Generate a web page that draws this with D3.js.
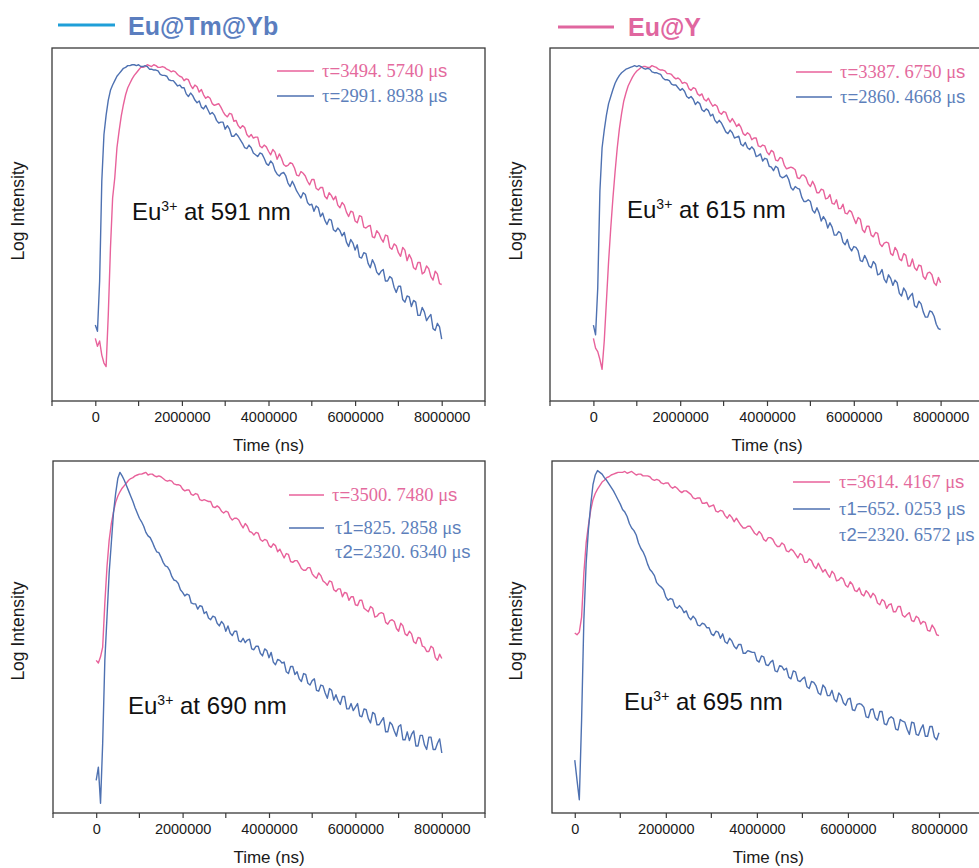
<!DOCTYPE html>
<html>
<head>
<meta charset="utf-8">
<script src="https://cdn.jsdelivr.net/npm/d3@7"></script>
<style>
  body { margin: 0; background: #fff; overflow: hidden; }
  svg { display: block; }
</style>
</head>
<body>
<svg id="fig" width="979" height="868"></svg>
<script>
// Sampling times (ns) shared by every decay trace
const timeNs = [
  0,50000,100000,150000,200000,250000,300000,350000,400000,450000,500000,550000,600000,650000,700000,750000,800000,850000,900000,950000,1000000,
  1050000,1100000,1150000,1200000,1250000,1300000,1350000,1400000,1450000,1500000,1550000,1600000,1650000,1700000,1750000,1800000,1850000,1900000,1950000,2000000,
  2050000,2100000,2150000,2200000,2250000,2300000,2350000,2400000,2450000,2500000,2550000,2600000,2650000,2700000,2750000,2800000,2850000,2900000,2950000,3000000,
  3050000,3100000,3150000,3200000,3250000,3300000,3350000,3400000,3450000,3500000,3550000,3600000,3650000,3700000,3750000,3800000,3850000,3900000,3950000,4000000,
  4050000,4100000,4150000,4200000,4250000,4300000,4350000,4400000,4450000,4500000,4550000,4600000,4650000,4700000,4750000,4800000,4850000,4900000,4950000,5000000,
  5050000,5100000,5150000,5200000,5250000,5300000,5350000,5400000,5450000,5500000,5550000,5600000,5650000,5700000,5750000,5800000,5850000,5900000,5950000,6000000,
  6050000,6100000,6150000,6200000,6250000,6300000,6350000,6400000,6450000,6500000,6550000,6600000,6650000,6700000,6750000,6800000,6850000,6900000,6950000,7000000,
  7050000,7100000,7150000,7200000,7250000,7300000,7350000,7400000,7450000,7500000,7550000,7600000,7650000,7700000,7750000,7800000,7850000,7900000,7950000,8000000
];

// Log intensity traces, Eu@Y samples (pink)
const euY591 = [
  0.71,0.62,0.68,0.52,0.43,0.39,0.98,1.73,2.30,2.53,2.87,3.06,3.23,3.36,3.47,3.55,3.60,3.65,3.69,3.72,3.75,
  3.78,3.78,3.79,3.81,3.80,3.79,3.81,3.80,3.78,3.78,3.79,3.78,3.76,3.75,3.73,3.74,3.73,3.70,3.68,3.67,
  3.63,3.65,3.64,3.58,3.54,3.58,3.56,3.50,3.53,3.47,3.43,3.45,3.43,3.37,3.35,3.36,3.37,3.33,3.28,3.24,
  3.22,3.26,3.25,3.17,3.18,3.12,3.09,3.12,3.10,3.02,2.99,3.02,2.98,2.99,2.99,2.89,2.87,2.90,2.88,2.83,
  2.79,2.85,2.82,2.74,2.80,2.75,2.68,2.66,2.67,2.70,2.69,2.64,2.56,2.55,2.60,2.58,2.55,2.49,2.45,2.51,
  2.51,2.41,2.39,2.42,2.42,2.32,2.29,2.36,2.33,2.28,2.32,2.22,2.19,2.25,2.22,2.14,2.09,2.15,2.14,2.04,
  2.02,2.10,2.09,1.97,1.96,1.98,1.99,1.86,1.85,1.93,1.90,1.84,1.80,1.88,1.87,1.74,1.72,1.78,1.76,1.68,
  1.64,1.74,1.71,1.59,1.66,1.61,1.51,1.49,1.57,1.57,1.44,1.46,1.53,1.50,1.41,1.37,1.47,1.44,1.33,1.32
];
const euY615 = [
  0.71,0.60,0.56,0.47,0.36,0.68,1.13,1.58,1.96,2.30,2.60,2.87,3.09,3.26,3.40,3.49,3.57,3.62,3.67,3.71,3.74,
  3.76,3.78,3.79,3.79,3.78,3.78,3.80,3.79,3.78,3.76,3.75,3.75,3.74,3.71,3.71,3.70,3.67,3.65,3.66,3.64,
  3.60,3.61,3.60,3.54,3.52,3.55,3.54,3.48,3.46,3.48,3.42,3.40,3.43,3.38,3.34,3.36,3.34,3.27,3.25,3.28,
  3.27,3.20,3.16,3.20,3.16,3.11,3.14,3.10,3.03,3.01,3.04,3.02,2.96,2.98,2.98,2.89,2.88,2.90,2.89,2.82,
  2.79,2.84,2.82,2.73,2.72,2.76,2.75,2.67,2.63,2.64,2.65,2.64,2.62,2.53,2.52,2.56,2.56,2.53,2.46,2.43,
  2.49,2.44,2.36,2.36,2.40,2.39,2.29,2.30,2.34,2.24,2.23,2.28,2.18,2.18,2.23,2.13,2.12,2.16,2.14,2.07,
  2.01,2.08,2.06,1.94,1.91,1.98,1.98,1.88,1.86,1.91,1.90,1.78,1.75,1.79,1.80,1.79,1.67,1.65,1.74,1.70,
  1.61,1.59,1.67,1.65,1.53,1.53,1.61,1.51,1.48,1.54,1.53,1.41,1.38,1.45,1.46,1.43,1.34,1.31,1.40,1.34
];
const euY690 = [
  1.73,1.70,1.77,1.88,2.38,2.79,3.09,3.28,3.41,3.52,3.59,3.64,3.68,3.71,3.74,3.77,3.79,3.80,3.82,3.83,3.84,
  3.84,3.85,3.86,3.83,3.84,3.84,3.82,3.81,3.82,3.81,3.79,3.77,3.76,3.77,3.76,3.73,3.72,3.72,3.71,3.67,
  3.65,3.66,3.66,3.61,3.60,3.62,3.61,3.55,3.54,3.55,3.54,3.53,3.53,3.47,3.46,3.48,3.46,3.42,3.40,3.42,
  3.41,3.35,3.32,3.34,3.34,3.32,3.27,3.23,3.28,3.25,3.19,3.18,3.15,3.18,3.17,3.10,3.08,3.10,3.09,3.03,
  3.01,3.05,3.03,2.96,2.99,2.94,2.89,2.94,2.93,2.85,2.84,2.86,2.86,2.82,2.77,2.75,2.75,2.78,2.78,2.71,
  2.68,2.66,2.72,2.69,2.63,2.61,2.58,2.63,2.62,2.53,2.51,2.54,2.54,2.45,2.50,2.49,2.41,2.45,2.45,2.36,
  2.35,2.41,2.41,2.32,2.30,2.28,2.34,2.32,2.22,2.23,2.26,2.27,2.26,2.16,2.14,2.18,2.19,2.17,2.09,2.06,
  2.15,2.12,2.03,2.01,2.06,2.03,1.94,1.92,1.99,1.98,1.89,1.88,1.83,1.83,1.89,1.87,1.76,1.73,1.80,1.75
];
const euY695 = [
  2.04,2.02,2.05,2.22,2.72,3.06,3.26,3.43,3.55,3.62,3.67,3.71,3.75,3.77,3.80,3.81,3.83,3.84,3.85,3.86,3.86,
  3.86,3.87,3.85,3.86,3.87,3.85,3.83,3.84,3.84,3.82,3.82,3.82,3.81,3.78,3.77,3.78,3.77,3.74,3.73,3.74,
  3.74,3.70,3.68,3.70,3.68,3.65,3.63,3.65,3.65,3.63,3.61,3.57,3.56,3.57,3.57,3.51,3.51,3.52,3.47,3.48,
  3.49,3.42,3.41,3.43,3.42,3.37,3.34,3.38,3.35,3.30,3.34,3.30,3.26,3.23,3.23,3.25,3.25,3.21,3.17,3.15,
  3.19,3.16,3.10,3.08,3.12,3.12,3.10,3.05,3.02,3.02,3.06,3.04,2.97,2.96,2.99,2.97,2.93,2.89,2.94,2.92,
  2.84,2.84,2.88,2.86,2.80,2.77,2.83,2.78,2.73,2.76,2.71,2.67,2.74,2.71,2.63,2.64,2.67,2.65,2.58,2.56,
  2.62,2.59,2.52,2.51,2.55,2.48,2.46,2.52,2.49,2.44,2.49,2.46,2.38,2.36,2.42,2.40,2.32,2.36,2.37,2.28,
  2.28,2.34,2.34,2.24,2.22,2.25,2.27,2.18,2.17,2.23,2.21,2.14,2.17,2.16,2.07,2.06,2.13,2.09,2.02,2.01
];

// Log intensity traces, Eu@Tm@Yb samples (blue)
const euTmYb591 = [
  0.86,0.79,1.36,2.49,3.02,3.24,3.41,3.52,3.58,3.63,3.68,3.71,3.74,3.77,3.78,3.80,3.80,3.81,3.81,3.80,3.81,
  3.79,3.79,3.80,3.79,3.76,3.76,3.75,3.75,3.74,3.70,3.69,3.69,3.68,3.64,3.63,3.63,3.60,3.57,3.58,3.55,
  3.55,3.48,3.45,3.49,3.46,3.41,3.38,3.40,3.33,3.31,3.35,3.30,3.25,3.27,3.24,3.18,3.15,3.16,3.16,3.08,
  3.12,3.08,3.00,3.00,3.03,3.00,2.96,2.92,2.87,2.86,2.90,2.87,2.81,2.79,2.77,2.81,2.80,2.75,2.69,2.67,
  2.72,2.69,2.61,2.57,2.55,2.58,2.59,2.55,2.47,2.43,2.49,2.44,2.38,2.34,2.30,2.36,2.34,2.25,2.22,2.23,
  2.15,2.21,2.19,2.09,2.13,2.05,2.00,2.06,2.05,1.94,1.92,1.96,1.93,1.87,1.91,1.80,1.75,1.83,1.79,1.71,
  1.77,1.63,1.62,1.68,1.67,1.56,1.51,1.60,1.55,1.46,1.43,1.47,1.49,1.36,1.36,1.41,1.39,1.29,1.23,1.30,
  1.30,1.15,1.12,1.19,1.18,1.07,1.14,1.12,0.97,0.97,1.06,1.01,0.91,0.95,0.98,0.82,0.80,0.88,0.84,0.70
];
const euTmYb615 = [
  0.86,0.75,1.28,2.38,2.87,3.07,3.24,3.37,3.45,3.53,3.60,3.65,3.69,3.72,3.74,3.76,3.77,3.78,3.79,3.80,3.79,
  3.80,3.79,3.77,3.76,3.77,3.76,3.73,3.72,3.72,3.71,3.70,3.66,3.64,3.64,3.63,3.59,3.58,3.58,3.55,3.52,
  3.54,3.51,3.45,3.43,3.45,3.42,3.36,3.39,3.37,3.30,3.28,3.31,3.29,3.23,3.25,3.18,3.15,3.18,3.15,3.10,
  3.05,3.03,3.07,3.04,2.98,2.99,3.00,2.91,2.89,2.93,2.87,2.85,2.88,2.85,2.77,2.78,2.80,2.72,2.75,2.74,
  2.66,2.65,2.61,2.66,2.64,2.55,2.53,2.54,2.56,2.51,2.42,2.39,2.43,2.41,2.40,2.31,2.26,2.26,2.28,2.26,
  2.16,2.13,2.19,2.13,2.04,2.09,2.05,1.96,2.02,1.97,1.88,1.88,1.92,1.90,1.80,1.77,1.83,1.74,1.70,1.75,
  1.74,1.70,1.59,1.58,1.65,1.60,1.53,1.51,1.58,1.55,1.43,1.44,1.49,1.38,1.34,1.43,1.39,1.31,1.37,1.34,
  1.22,1.19,1.28,1.24,1.15,1.19,1.22,1.08,1.06,1.13,1.10,1.01,0.95,0.95,1.02,1.01,0.96,0.87,0.82,0.81
];
const euTmYb690 = [
  0.37,0.52,0.11,0.79,1.73,2.22,2.72,3.06,3.40,3.62,3.79,3.86,3.82,3.77,3.71,3.65,3.59,3.53,3.46,3.40,3.34,
  3.30,3.25,3.18,3.14,3.12,3.07,3.01,2.96,2.95,2.90,2.84,2.80,2.79,2.75,2.68,2.64,2.63,2.60,2.53,2.50,
  2.46,2.48,2.47,2.38,2.37,2.37,2.31,2.35,2.34,2.26,2.28,2.21,2.19,2.23,2.22,2.15,2.12,2.17,2.14,2.06,
  2.12,2.04,2.01,2.06,2.06,1.95,1.94,1.98,1.93,1.96,1.97,1.86,1.85,1.89,1.89,1.81,1.78,1.86,1.84,1.76,
  1.82,1.71,1.68,1.74,1.73,1.70,1.71,1.60,1.58,1.66,1.66,1.57,1.60,1.52,1.49,1.58,1.57,1.47,1.45,1.50,
  1.52,1.39,1.38,1.45,1.44,1.36,1.30,1.41,1.39,1.28,1.34,1.27,1.23,1.32,1.32,1.18,1.18,1.24,1.16,1.20,
  1.24,1.10,1.09,1.18,1.17,1.07,1.02,1.14,1.12,1.00,1.00,1.04,1.08,0.92,0.92,1.03,1.00,0.93,0.87,0.98,
  1.00,0.83,0.83,0.92,0.82,0.89,0.93,0.76,0.76,0.88,0.88,0.77,0.72,0.86,0.86,0.72,0.72,0.79,0.84,0.68
];
const euTmYb695 = [
  0.60,0.37,0.15,1.05,2.19,2.83,3.21,3.49,3.72,3.83,3.88,3.86,3.84,3.80,3.77,3.73,3.69,3.65,3.60,3.55,3.50,
  3.44,3.41,3.36,3.28,3.23,3.20,3.15,3.06,3.00,2.96,2.90,2.82,2.76,2.73,2.69,2.61,2.58,2.56,2.53,2.45,
  2.41,2.43,2.42,2.34,2.32,2.35,2.32,2.27,2.29,2.22,2.19,2.23,2.20,2.13,2.12,2.15,2.14,2.10,2.10,2.03,
  2.01,2.06,2.05,1.98,2.03,1.94,1.92,1.98,1.95,1.89,1.86,1.91,1.91,1.81,1.81,1.84,1.83,1.82,1.82,1.73,
  1.71,1.78,1.77,1.68,1.67,1.71,1.73,1.61,1.60,1.67,1.66,1.62,1.64,1.54,1.52,1.61,1.60,1.50,1.49,1.52,
  1.54,1.43,1.41,1.49,1.48,1.44,1.36,1.34,1.45,1.42,1.33,1.33,1.39,1.29,1.26,1.36,1.33,1.25,1.22,1.29,
  1.30,1.17,1.16,1.23,1.24,1.23,1.20,1.09,1.08,1.17,1.18,1.08,1.05,1.15,1.15,1.01,1.00,1.07,1.09,1.07,
  0.95,0.94,1.06,1.04,1.03,0.95,0.89,1.03,1.02,0.89,0.88,0.95,1.00,0.87,0.87,0.98,0.98,0.86,0.83,0.91
];

// Labels
const sampleNames = ["Eu@Tm@Yb", "Eu@Y"];
const wavelengthsNm = [591, 615, 690, 695];
const lifetimeEuY = ["τ=3494. 5740 μs", "τ=3387. 6750 μs", "τ=3500. 7480 μs", "τ=3614. 4167 μs"];
const lifetimeEuTmYb = [
  ["τ=2991. 8938 μs"],
  ["τ=2860. 4668 μs"],
  ["τ1=825. 2858 μs", "τ2=2320. 6340 μs"],
  ["τ1=652. 0253 μs", "τ2=2320. 6572 μs"]
];
const xTickValues = [0, 2000000, 4000000, 6000000, 8000000];
const xMinorTickValues = [-1000000, 1000000, 3000000, 5000000, 7000000, 9000000];
const logDomain = [0, 4];

const pink = "#e8629b";
const blue = "#4e71b1";
const pinkText = "#e46a9d";
const blueText = "#5d7fbb";
const sans = "Arial, 'Liberation Sans', sans-serif";
const serif = "'Liberation Serif', 'Times New Roman', serif";

const svg = d3.select("#fig");

// Panel geometry
const panels = [
  { left: 52, right: 485, top: 48, bottom: 401, xMin: -1000000, xMax: 9000000,
    pinkData: euY591, blueData: euTmYb591,
    legLine: [277, 314], legText: [322, 322], legRows: [71, 96], noteX: 132, noteY: 220,
    yTitleX: 24, yTitleY: 211 },
  { left: 550, right: 984, top: 48, bottom: 401, xMin: -1000000, xMax: 9000000,
    pinkData: euY615, blueData: euTmYb615,
    legLine: [796, 832], legText: [840, 840], legRows: [72, 97], noteX: 627, noteY: 218,
    yTitleX: 522, yTitleY: 211 },
  { left: 53, right: 485, top: 461, bottom: 813, xMin: -1000000, xMax: 9000000,
    pinkData: euY690, blueData: euTmYb690,
    legLine: [289, 324], legText: [332, 335], legRows: [495, 528, 552], noteX: 128, noteY: 714,
    yTitleX: 24, yTitleY: 631 },
  { left: 552, right: 984.5, top: 461, bottom: 813, xMin: -500000, xMax: 9000000,
    pinkData: euY695, blueData: euTmYb695,
    legLine: [793, 830], legText: [839, 839], legRows: [482, 509, 535], noteX: 624, noteY: 710,
    yTitleX: 522, yTitleY: 631 }
];

// One lifetime label: τ, value and μ in serif; index, "=" and the unit "s" in sans
function lifetimeText(sel, label) {
  const m = label.match(/^(τ)(\d?)(=)(.*?)(μ)(s)$/);
  const parts = [[m[1], serif], [m[2], sans], [m[3], sans], [m[4], serif], [m[5], serif], [m[6], sans]];
  parts.forEach(([t, f]) => {
    if (t) sel.append("tspan").attr("font-family", f).text(t);
  });
}

panels.forEach((p, k) => {
  const g = svg.append("g");
  const x = d3.scaleLinear().domain([p.xMin, p.xMax]).range([p.left, p.right]);
  const y = d3.scaleLinear().domain(logDomain).range([p.bottom, p.bottom - 353]);

  // decay traces
  const line = d3.line()
    .x((d, i) => x(timeNs[i]))
    .y(d => y(d));
  g.append("path").datum(p.pinkData)
    .attr("d", line).attr("fill", "none")
    .attr("stroke", pink).attr("stroke-width", 1.4).attr("stroke-linejoin", "round");
  g.append("path").datum(p.blueData)
    .attr("d", line).attr("fill", "none")
    .attr("stroke", blue).attr("stroke-width", 1.4).attr("stroke-linejoin", "round");

  // frame
  g.append("rect")
    .attr("x", p.left).attr("y", p.top)
    .attr("width", p.right - p.left).attr("height", p.bottom - p.top)
    .attr("fill", "none").attr("stroke", "#3a3a3a").attr("stroke-width", 1.3);

  // bottom axis
  const axis = d3.axisBottom(x)
    .tickValues(xTickValues)
    .tickFormat(d3.format("d"))
    .tickSize(5).tickSizeOuter(0).tickPadding(6);
  const ax = g.append("g").attr("transform", `translate(0,${p.bottom})`).call(axis);
  ax.select(".domain").remove();
  ax.selectAll(".tick line").attr("stroke", "#3a3a3a").attr("stroke-width", 1.2);
  ax.selectAll(".tick text")
    .attr("font-family", sans).attr("font-size", 14.5).attr("fill", "#1a1a1a");
  g.append("g").selectAll("line")
    .data(xMinorTickValues.filter(v => v >= p.xMin && v <= p.xMax))
    .join("line")
    .attr("x1", d => x(d)).attr("x2", d => x(d))
    .attr("y1", p.bottom).attr("y2", p.bottom + 5)
    .attr("stroke", "#3a3a3a").attr("stroke-width", 1.2);

  // axis titles
  g.append("text")
    .attr("x", (p.left + p.right) / 2).attr("y", p.bottom + 50)
    .attr("text-anchor", "middle")
    .attr("font-family", sans).attr("font-size", 17).attr("fill", "#1a1a1a")
    .text("Time (ns)");
  g.append("text")
    .attr("transform", `translate(${p.yTitleX},${p.yTitleY}) rotate(-90)`)
    .attr("text-anchor", "middle")
    .attr("font-family", sans).attr("font-size", 17.5).attr("fill", "#1a1a1a")
    .text("Log Intensity");

  // wavelength note
  const note = g.append("text")
    .attr("x", p.noteX).attr("y", p.noteY)
    .attr("font-family", sans).attr("font-size", 24).attr("fill", "#111");
  note.append("tspan").text("Eu");
  note.append("tspan").attr("dy", -9).attr("font-size", 14).text("3+");
  note.append("tspan").attr("dy", 9).text(` at ${wavelengthsNm[k]} nm`);

  // lifetime legend
  const rows = [
    { label: lifetimeEuY[k], color: pink, textColor: pinkText, line: true, tx: p.legText[0] },
    ...lifetimeEuTmYb[k].map((t, i) => ({ label: t, color: blue, textColor: blueText, line: i === 0, tx: p.legText[1] }))
  ];
  rows.forEach((r, i) => {
    const ry = p.legRows[i];
    if (r.line) {
      g.append("line")
        .attr("x1", p.legLine[0]).attr("x2", p.legLine[1])
        .attr("y1", ry).attr("y2", ry)
        .attr("stroke", r.color).attr("stroke-width", 1.3);
    }
    const t = g.append("text")
      .attr("x", r.tx).attr("y", ry + 6)
      .attr("font-size", 18.5).attr("fill", r.textColor);
    lifetimeText(t, r.label);
  });
});

// sample key above the panels
const keys = [
  { name: sampleNames[0], lineColor: "#1f9fd8", textColor: "#5b7ebf", x1: 58, x2: 115, ly: 25, tx: 128, ty: 35 },
  { name: sampleNames[1], lineColor: "#e0669f", textColor: "#e0669f", x1: 558, x2: 614, ly: 27, tx: 628, ty: 36 }
];
keys.forEach(kd => {
  svg.append("line")
    .attr("x1", kd.x1).attr("x2", kd.x2).attr("y1", kd.ly).attr("y2", kd.ly)
    .attr("stroke", kd.lineColor).attr("stroke-width", 3);
  svg.append("text")
    .attr("x", kd.tx).attr("y", kd.ty)
    .attr("font-family", sans).attr("font-weight", "bold").attr("font-size", 25)
    .attr("fill", kd.textColor)
    .text(kd.name);
});
</script>
</body>
</html>
